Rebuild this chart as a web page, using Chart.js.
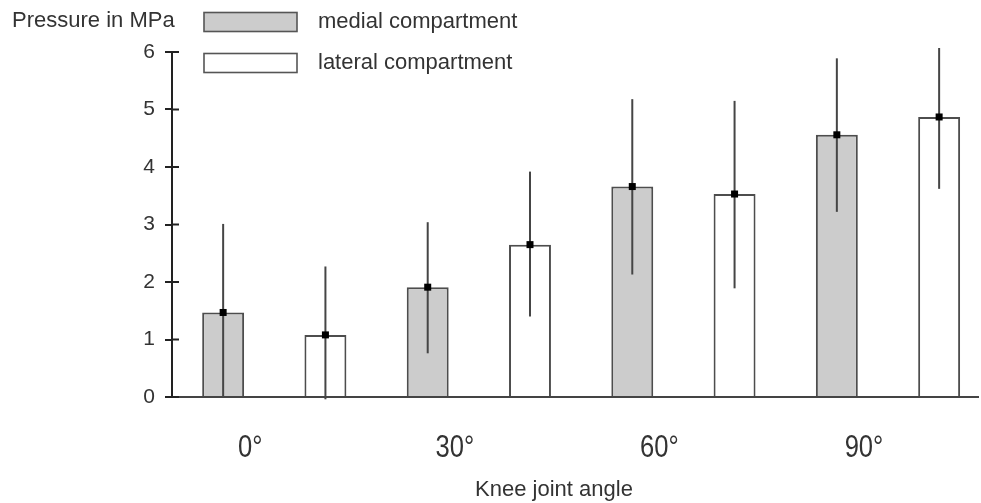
<!DOCTYPE html>
<html>
<head>
<meta charset="utf-8">
<script src="https://cdn.jsdelivr.net/npm/chart.js@4.4.1/dist/chart.umd.min.js"></script>
<style>
  html, body { margin: 0; padding: 0; background: #fff; overflow: hidden; }
  canvas { display: block; }
</style>
</head>
<body>
<canvas id="chart" width="981" height="503"></canvas>
<script>
// Knee joint angles (categories)
const angles = ['0°', '30°', '60°', '90°'];

// Medial compartment: mean pressure and whisker ends (MPa)
const medialMean = [1.47, 1.91, 3.66, 4.56];
const medialHigh = [3.01, 3.04, 5.18, 5.89];
const medialLow  = [0.00, 0.76, 2.13, 3.22];

// Lateral compartment: mean pressure and whisker ends (MPa)
const lateralMean = [1.08, 2.65, 3.53, 4.87];
const lateralHigh = [2.27, 3.92, 5.15, 6.07];
const lateralLow  = [-0.04, 1.40, 1.89, 3.62];

// Pressure axis
const yMin = 0, yMax = 6, yStep = 1;

const FONT = "'Liberation Sans', Arial, Helvetica, sans-serif";
const TEXT = '#333333';

const toPoints = arr => arr.map((v, i) => ({ x: i, y: v }));

// Whiskers and mean markers on top of each bar
const errorBars = {
  id: 'errorBars',
  afterDatasetsDraw(chart) {
    const { ctx, scales: { y } } = chart;
    chart.data.datasets.forEach((ds, d) => {
      const meta = chart.getDatasetMeta(d);
      meta.data.forEach((bar, i) => {
        const top = y.getPixelForValue(ds.errHigh[i]);
        const bot = y.getPixelForValue(ds.errLow[i]);
        ctx.save();
        ctx.strokeStyle = '#454545';
        ctx.lineWidth = 2;
        ctx.beginPath();
        ctx.moveTo(bar.x, top);
        ctx.lineTo(bar.x, bot);
        ctx.stroke();
        ctx.fillStyle = '#000';
        ctx.fillRect(bar.x - 3.5, bar.y - 3.5, 7, 7);
        ctx.restore();
      });
    });
  }
};

// Inner tick marks on the pressure axis, condensed angle labels, legend, axis title
const decorations = {
  id: 'decorations',
  afterDraw(chart) {
    const { ctx, chartArea, scales: { x, y } } = chart;
    ctx.save();
    ctx.strokeStyle = '#222';
    ctx.lineWidth = 2;
    y.ticks.forEach(t => {
      const py = y.getPixelForValue(t.value);
      ctx.beginPath();
      ctx.moveTo(chartArea.left, py);
      ctx.lineTo(chartArea.left + 7, py);
      ctx.stroke();
    });

    // angle labels, set in a narrow face
    ctx.fillStyle = TEXT;
    ctx.font = '32px ' + FONT;
    ctx.textAlign = 'center';
    ctx.textBaseline = 'middle';
    x.ticks.forEach(t => {
      const px = x.getPixelForValue(t.value) - 24;
      ctx.save();
      ctx.translate(px, chartArea.bottom + 51);
      ctx.scale(0.8, 1);
      ctx.fillText(angles[t.value], 0, 0);
      ctx.restore();
    });

    // legend
    chart.data.datasets.forEach((ds, d) => {
      const bx = 204, by = 12.5 + d * 41, bw = 93, bh = 19;
      ctx.fillStyle = ds.backgroundColor;
      ctx.fillRect(bx, by, bw, bh);
      ctx.strokeStyle = '#555';
      ctx.lineWidth = 1.6;
      ctx.strokeRect(bx, by, bw, bh);
      ctx.fillStyle = TEXT;
      ctx.font = '22px ' + FONT;
      ctx.textAlign = 'left';
      ctx.textBaseline = 'middle';
      ctx.fillText(ds.label, 318, by + bh / 2);
    });

    // x axis title
    ctx.fillStyle = TEXT;
    ctx.font = '22px ' + FONT;
    ctx.textAlign = 'center';
    ctx.textBaseline = 'middle';
    ctx.fillText('Knee joint angle', (chartArea.left + chartArea.right) / 2 - 21, 490);
    ctx.restore();
  }
};

new Chart(document.getElementById('chart'), {
  type: 'bar',
  data: {
    datasets: [
      {
        label: 'medial compartment',
        data: toPoints(medialMean),
        errLow: medialLow,
        errHigh: medialHigh,
        backgroundColor: '#cccccc',
        borderColor: '#4d4d4d',
        borderWidth: 2
      },
      {
        label: 'lateral compartment',
        data: toPoints(lateralMean),
        errLow: lateralLow,
        errHigh: lateralHigh,
        backgroundColor: '#ffffff',
        borderColor: '#4d4d4d',
        borderWidth: 2
      }
    ]
  },
  options: {
    responsive: false,
    animation: false,
    devicePixelRatio: 1,
    categoryPercentage: 1,
    barPercentage: 0.41,
    layout: { padding: { left: 12, right: 3, top: 0, bottom: 0 } },
    plugins: {
      legend: { display: false },
      tooltip: { enabled: false },
      title: {
        display: true,
        text: 'Pressure in MPa',
        align: 'start',
        color: TEXT,
        font: { family: FONT, size: 22, weight: 'normal' },
        padding: { top: 8, bottom: 17.6 }
      }
    },
    scales: {
      x: {
        type: 'linear',
        offset: false,
        min: -0.5,
        max: 3.44,
        afterBuildTicks: s => { s.ticks = angles.map((_, i) => ({ value: i })); },
        afterFit: s => { s.height = 106; },
        grid: { display: false },
        border: { display: true, color: '#444', width: 2 },
        ticks: { display: false }
      },
      y: {
        min: yMin,
        max: yMax,
        afterFit: s => { s.width = 160; },
        grid: { display: true, drawOnChartArea: false, drawTicks: true, tickLength: 7, color: '#222', lineWidth: 2 },
        border: { display: true, color: '#222', width: 2 },
        ticks: {
          stepSize: yStep,
          font: { family: FONT, size: 21 },
          color: TEXT,
          padding: 10
        }
      }
    }
  },
  plugins: [errorBars, decorations]
});
</script>
</body>
</html>
